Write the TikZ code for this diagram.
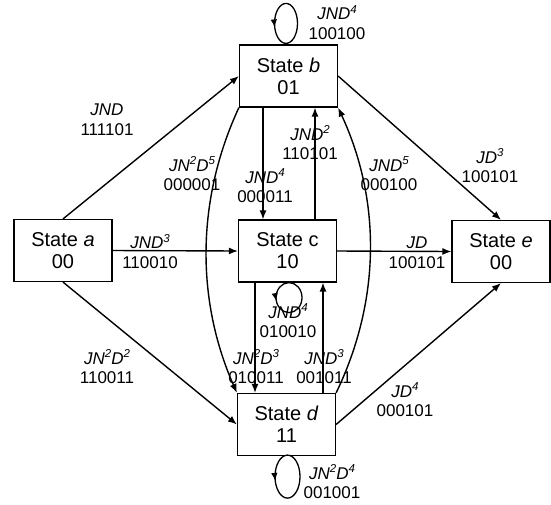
\documentclass[tikz,border=0pt]{standalone}
\usepackage{fontspec}
\setmainfont{Liberation Sans}
\usetikzlibrary{arrows.meta,decorations.markings,calc}
\newcommand\mkloop[3]{\draw[loopy] (#1) ++(0,-#3)
  .. controls +(-0.5523*#2,0) and +(0,-0.5523*#3) .. ++(-#2,#3)
  .. controls +(0,0.5523*#3) and +(-0.5523*#2,0) .. ++(#2,#3)
  .. controls +(0.5523*#2,0) and +(0,0.5523*#3) .. ++(#2,-#3)
  .. controls +(0,-0.5523*#3) and +(0.5523*#2,0) .. ++(-#2,-#3);}
\newcommand\sups[1]{\raisebox{0.38em}{\fontsize{11.5}{11.5}\selectfont\itshape #1}}
\begin{document}
\begin{tikzpicture}[x=1pt,y=-1pt,
  state/.style={draw, line width=1.2pt, minimum width=98pt, minimum height=62pt, align=center, font=\fontsize{20}{22}\selectfont, inner sep=0pt},
  lbl/.style={align=center, font=\fontsize{17}{19.5}\selectfont, inner sep=0pt},
  edge/.style={line width=1.4pt, -{Latex[length=9pt,width=7pt]}},
  loopy/.style={line width=1.3pt, postaction={decorate}, decoration={markings, mark=at position 0.29 with {\arrow{Latex[length=8pt,width=6.5pt]}}}}
]
\useasboundingbox (0,0) rectangle (551,504);
\node[state] (a) at (63,250.5) {State \textit{a}\\00};
\node[state] (b) at (288.5,76) {State \textit{b}\\01};
\node[state] (c) at (287.5,251) {State c\\10};
\node[state] (d) at (286.5,424.5) {State \textit{d}\\11};
\node[state] (e) at (501,251.5) {State \textit{e}\\00};
% vertical positions
\coordinate (xbc) at (263,0);
\coordinate (xcb) at (315,0);
\coordinate (xcd) at (255,0);
\coordinate (xdc) at (323,0);
% loop centres
\coordinate (lb) at ($(b.north)+(-2.5,-21)$);
\coordinate (lc) at ($(c.south)+(1.5,15)$);
\coordinate (ld) at ($(d.south)+(1,20.5)$);
% straight edges
\draw[edge] (a.north) -- (b.west);
\draw[edge] (a.east) -- (c.west);
\draw[edge] (a.south) -- (d.west);
\draw[edge] (b.east) -- (e.north);
\draw[edge] (c.east) -- (e.west);
\draw[edge] (d.east) -- (e.south);
\draw[edge] (b.south -| xbc) -- (c.north -| xbc);
\draw[edge] (c.north -| xcb) -- (b.south -| xcb);
\draw[edge] (c.south -| xcd) -- (d.north -| xcd);
\draw[edge] (d.north -| xdc) -- (c.south -| xdc);
% curved edges
\draw[edge] (b.south west) .. controls (196,200) and (196,300) .. (d.north west);
\draw[edge] (d.north east) .. controls (381,300) and (381,200) .. (b.south east);
% loops
\mkloop{lb}{11.5}{20}
\mkloop{lc}{13}{15}
\mkloop{ld}{12.5}{21.5}
% labels
\node[lbl] (l1) at (107,119.5) {\textit{JND}\\111101};
\node[lbl] (l2) at (150,251.5) {\textit{JND}\sups{3}\\110010};
\node[lbl] (l3) at (107,367) {\textit{JN}\sups{2}\textit{D}\sups{2}\\110011};
\node[lbl] (l4) at (490,166) {\textit{JD}\sups{3}\\100101};
\node[lbl] (l5) at (417,252.5) {\textit{JD}\\100101};
\node[lbl] (l6) at (405,400) {\textit{JD}\sups{4}\\000101};
\node[lbl] (l7) at (192,174) {\textit{JN}\sups{2}\textit{D}\sups{5}\\000001};
\node[lbl] (l8) at (389,174) {\textit{JND}\sups{5}\\000100};
\node[lbl] (l9) at (310,143) {\textit{JND}\sups{2}\\110101};
\node[lbl] (l10) at (265,186) {\textit{JND}\sups{4}\\000011};
\node[lbl] (l11) at (256,367) {\textit{JN}\sups{2}\textit{D}\sups{3}\\010011};
\node[lbl] (l12) at (324,367) {\textit{JND}\sups{3}\\001011};
\node[lbl] (l13) at (288,321) {\textit{JND}\sups{4}\\010010};
\node[lbl] (l14) at (337,22.5) {\textit{JND}\sups{4}\\100100};
\node[lbl] (l15) at (332,482) {\textit{JN}\sups{2}\textit{D}\sups{4}\\001001};
\end{tikzpicture}
\end{document}
